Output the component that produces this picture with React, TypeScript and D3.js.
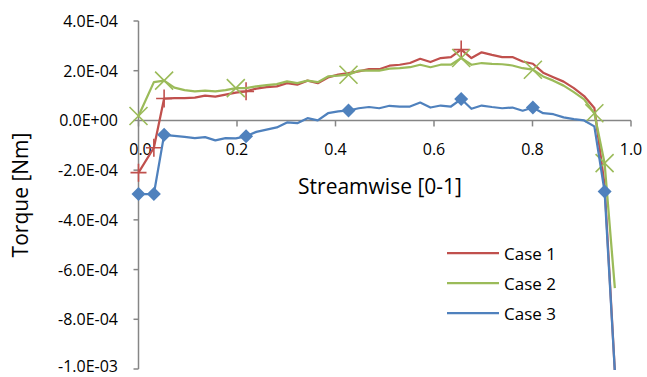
import React from "react";
import * as d3 from "d3";

// Streamwise positions (fraction of length)
const streamwise = [
  0, 0.0312, 0.052, 0.0728, 0.0936, 0.1144, 0.1352, 0.156, 0.1768, 0.1976,
  0.2184, 0.2392, 0.26, 0.2808, 0.3016, 0.3224, 0.3432, 0.364, 0.3848, 0.4056,
  0.4264, 0.4472, 0.468, 0.4888, 0.5096, 0.5304, 0.5512, 0.572, 0.5928, 0.6136,
  0.6344, 0.6552, 0.676, 0.6968, 0.7176, 0.7384, 0.7592, 0.78, 0.8008, 0.8216,
  0.8424, 0.8632, 0.884, 0.9048, 0.9256, 0.9464, 0.9672,
];

// Torque per case, in units of 1E-04 Nm
const case1 = [
  -2.1, -1.1, 0.88, 0.9, 0.9, 0.92, 1.0, 0.96, 1.04, 1.12,
  1.17, 1.28, 1.34, 1.37, 1.5, 1.44, 1.6, 1.5, 1.73, 1.84,
  1.9, 1.97, 2.06, 2.06, 2.2, 2.24, 2.31, 2.48, 2.35, 2.51,
  2.55, 2.85, 2.51, 2.74, 2.64, 2.55, 2.55, 2.37, 2.28, 1.92,
  1.74, 1.56, 1.3, 0.98, 0.5, -2.6, -10.1,
];
const case2 = [
  0.18, 1.54, 1.6, 1.32, 1.22, 1.17, 1.2, 1.17, 1.22, 1.3,
  1.3, 1.37, 1.42, 1.46, 1.57, 1.5, 1.6, 1.54, 1.77, 1.8,
  1.84, 2.0, 2.0, 2.0, 2.08, 2.1, 2.14, 2.24, 2.14, 2.24,
  2.24, 2.51, 2.24, 2.31, 2.28, 2.26, 2.21, 2.1, 2.04, 1.77,
  1.6, 1.4, 1.14, 0.85, 0.29, -1.72, -6.75,
];
const case3 = [
  -2.96, -2.96, -0.58, -0.62, -0.66, -0.71, -0.67, -0.8, -0.71, -0.72,
  -0.64, -0.46, -0.37, -0.28, -0.08, -0.11, 0.09, 0.0, 0.29, 0.36,
  0.4, 0.49, 0.54, 0.49, 0.59, 0.56, 0.56, 0.72, 0.52, 0.6,
  0.56, 0.86, 0.47, 0.6, 0.54, 0.49, 0.52, 0.39, 0.52, 0.29,
  0.25, 0.12, 0.05, 0.0, -0.24, -2.86, -10.1,
];

// Indices of the points that carry a marker
const case1Markers = [0, 1, 2, 10, 31];
const case2Markers = [0, 2, 9, 20, 31, 38, 44, 45];
const case3Markers = [0, 1, 2, 10, 20, 31, 38, 45];

const seriesNames = ["Case 1", "Case 2", "Case 3"];
const xTicks = [0, 0.2, 0.4, 0.6, 0.8, 1.0];
const xTickLabels = ["0.0", "0.2", "0.4", "0.6", "0.8", "1.0"];
const yTicks = [4e-4, 2e-4, 0, -2e-4, -4e-4, -6e-4, -8e-4, -1e-3];
const yTickLabels = [
  "4.0E-04", "2.0E-04", "0.0E+00", "-2.0E-04",
  "-4.0E-04", "-6.0E-04", "-8.0E-04", "-1.0E-03",
];

const FONT = "'Open Sans', 'Liberation Sans', sans-serif";
const COLORS = ["#C0504D", "#9BBB59", "#4F81BD"];
const AXIS = "#868686";

type Pt = { x: number; y: number };

export default function App() {
  const W = 647;
  const H = 377;
  const plot = { left: 138.5, right: 631, top: 21, bottom: 369 };

  const x = d3.scaleLinear().domain([0, 1]).range([plot.left, plot.right]);
  const y = d3.scaleLinear().domain([-1e-3, 4e-4]).range([plot.bottom, plot.top]);

  const build = (vals: number[]): Pt[] =>
    vals.map((v, i) => ({ x: streamwise[i], y: v * 1e-4 }));

  const series = [
    { pts: build(case1), markers: case1Markers, kind: "plus" },
    { pts: build(case2), markers: case2Markers, kind: "cross" },
    { pts: build(case3), markers: case3Markers, kind: "diamond" },
  ];

  const line = d3
    .line<Pt>()
    .x((d) => x(d.x))
    .y((d) => y(d.y));

  const marker = (kind: string, cx: number, cy: number, color: string, key: string) => {
    if (kind === "diamond") {
      const s = 7;
      return (
        <path
          key={key}
          d={`M${cx},${cy - s}L${cx + s},${cy}L${cx},${cy + s}L${cx - s},${cy}Z`}
          fill={color}
        />
      );
    }
    if (kind === "cross") {
      const s = 9;
      return (
        <path
          key={key}
          d={`M${cx - s},${cy - s}L${cx + s},${cy + s}M${cx - s},${cy + s}L${cx + s},${cy - s}`}
          stroke={color}
          strokeWidth={1.6}
          fill="none"
        />
      );
    }
    const s = 8;
    return (
      <path
        key={key}
        d={`M${cx - s},${cy}L${cx + s},${cy}M${cx},${cy - s - 1}L${cx},${cy + s + 1}`}
        stroke={color}
        strokeWidth={1.6}
        fill="none"
      />
    );
  };

  const legendY = [253, 283, 313];

  return (
    <svg
      width={W}
      height={H}
      style={{ position: "absolute", left: 0, top: 0, display: "block", background: "#fff" }}
      fontFamily={FONT}
    >
      <defs>
        <clipPath id="plot-clip">
          <rect x={plot.left - 12} y={plot.top - 12} width={plot.right - plot.left + 24} height={plot.bottom - plot.top + 13} />
        </clipPath>
      </defs>

      {/* y axis */}
      <line x1={plot.left} x2={plot.left} y1={plot.top} y2={plot.bottom} stroke={AXIS} strokeWidth={1.5} />
      {yTicks.map((t, i) => (
        <g key={`yt${i}`}>
          <line x1={plot.left - 5} x2={plot.left} y1={y(t)} y2={y(t)} stroke={AXIS} strokeWidth={1.5} />
          <text
            x={118}
            y={Math.min(y(t), H - 11)}
            textAnchor="end"
            dominantBaseline="central"
            fontSize={16}
            fill="#000"
          >
            {yTickLabels[i]}
          </text>
        </g>
      ))}

      {/* x axis through zero */}
      <line x1={plot.left} x2={plot.right} y1={y(0)} y2={y(0)} stroke={AXIS} strokeWidth={1.5} />
      {xTicks.map((t, i) => (
        <g key={`xt${i}`}>
          <line x1={x(t)} x2={x(t)} y1={y(0)} y2={y(0) + 6} stroke={AXIS} strokeWidth={1.5} />
          <text x={x(t) + (i === 0 ? 2 : 0)} y={y(0) + 35} textAnchor="middle" fontSize={16} fill="#000">
            {xTickLabels[i]}
          </text>
        </g>
      ))}

      {/* series */}
      <g clipPath="url(#plot-clip)">
        {series.map((s, si) => (
          <g key={`s${si}`}>
            <path d={line(s.pts) || ""} fill="none" stroke={COLORS[si]} strokeWidth={2.25} strokeLinejoin="round" />
            {s.markers.map((mi) =>
              marker(s.kind, x(s.pts[mi].x), y(s.pts[mi].y), COLORS[si], `m${si}-${mi}`)
            )}
          </g>
        ))}
      </g>

      {/* axis titles */}
      <text x={380} y={194} textAnchor="middle" fontSize={21} fill="#000">
        Streamwise [0-1]
      </text>
      <text
        transform={`translate(28,195) rotate(-90)`}
        textAnchor="middle"
        fontSize={21}
        fill="#000"
      >
        Torque [Nm]
      </text>

      {/* legend */}
      {seriesNames.map((n, i) => (
        <g key={`lg${i}`}>
          <line x1={447} x2={499} y1={legendY[i]} y2={legendY[i]} stroke={COLORS[i]} strokeWidth={2.25} />
          <text x={504} y={legendY[i]} dominantBaseline="central" fontSize={17} fill="#000">
            {n}
          </text>
        </g>
      ))}
    </svg>
  );
}
